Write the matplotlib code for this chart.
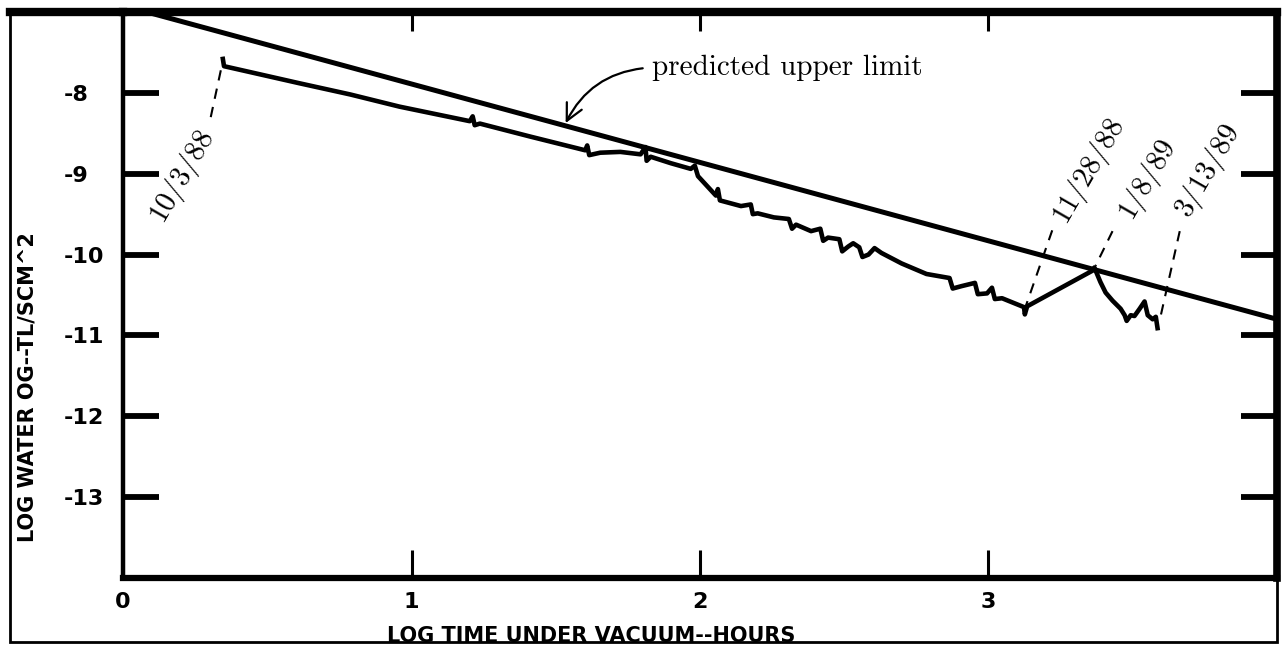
import matplotlib
matplotlib.use("Agg")
import matplotlib.pyplot as plt
import matplotlib.lines as mlines
import matplotlib.patches as mpatches
import numpy as np

# predicted upper limit (straight line in log-log)
upper_x = [0.0, 4.0]
upper_y = [-6.92, -10.80]

meas_x = [0.346, 0.350, 0.610, 0.788, 0.958, 1.202, 1.212, 1.219, 1.237, 1.411,
          1.602, 1.609, 1.616, 1.654, 1.724, 1.794, 1.811, 1.815, 1.829, 1.899,
          1.968, 1.982, 1.993, 2.055, 2.062, 2.069, 2.142, 2.176, 2.183, 2.200,
          2.256, 2.308, 2.319, 2.333, 2.385, 2.417, 2.427, 2.444, 2.483, 2.493,
          2.514, 2.531, 2.552, 2.563, 2.584, 2.605, 2.629, 2.699, 2.785, 2.865,
          2.876, 2.907, 2.953, 2.963, 2.995, 3.012, 3.022, 3.047, 3.123, 3.126,
          3.134, 3.360, 3.367, 3.388, 3.406, 3.430, 3.458, 3.472, 3.479, 3.493,
          3.506, 3.524, 3.541, 3.552, 3.569, 3.580, 3.586]
meas_y = [-7.58, -7.67, -7.88, -8.02, -8.17, -8.35, -8.29, -8.40, -8.38, -8.54,
          -8.71, -8.65, -8.77, -8.74, -8.73, -8.76, -8.67, -8.84, -8.79, -8.87,
          -8.94, -8.90, -9.03, -9.27, -9.19, -9.33, -9.40, -9.38, -9.50, -9.49,
          -9.54, -9.56, -9.68, -9.63, -9.71, -9.68, -9.83, -9.79, -9.81, -9.96,
          -9.90, -9.86, -9.91, -10.03, -10.00, -9.92, -9.98, -10.11, -10.24, -10.29,
          -10.42, -10.39, -10.35, -10.49, -10.48, -10.41, -10.55, -10.54, -10.65, -10.74,
          -10.64, -10.20, -10.16, -10.34, -10.47, -10.57, -10.67, -10.75, -10.82, -10.75,
          -10.76, -10.67, -10.58, -10.75, -10.80, -10.77, -10.91]

x_ticks = [0, 1, 2, 3]
y_ticks = [-8, -9, -10, -11, -12, -13]

# date labels with their dashed leaders
date_labels = ['10/3/88', '11/28/88', '1/8/89', '3/13/89']
date_text_x = [0.113, 3.245, 3.472, 3.673]
date_text_y = [-9.56, -9.57, -9.52, -9.49]
leader_x = [[0.304, 0.345], [3.221, 3.130], [3.430, 3.371], [3.663, 3.593]]
leader_y = [[-8.30, -7.62], [-9.70, -10.63], [-9.71, -10.14], [-9.71, -10.82]]

arrow_x = 1.53
label_x, label_y = 1.835, -7.775

fig = plt.figure(figsize=(12.83, 6.5), dpi=100)
ax = fig.add_axes([0.0959, 0.1108, 0.8994, 0.8707])

# outer frame around the whole plot
fig.patches.append(mpatches.Rectangle((0.0078, 0.0123), 0.9875, 0.9692,
                                      transform=fig.transFigure, fill=False,
                                      lw=2, ec='black'))
fig.add_artist(mlines.Line2D([0.0078, 0.0959], [0.9815, 0.9815], lw=6,
                             color='black', transform=fig.transFigure))

ax.plot(upper_x, upper_y, color='black', lw=3.6)
ax.plot(meas_x, meas_y, color='black', lw=3.3, solid_joinstyle='round')

for (xs, ys) in zip(leader_x, leader_y):
    ax.plot(xs, ys, color='black', lw=1.5, ls=(0, (5, 4)))

for lab, tx, ty in zip(date_labels, date_text_x, date_text_y):
    ax.text(tx, ty, lab, rotation=60, rotation_mode='anchor', ha='left',
            va='center', family='cmr10', fontsize=21)

ax.annotate('predicted upper limit',
            xy=(arrow_x, np.interp(arrow_x, upper_x, upper_y)),
            xytext=(label_x, label_y), family='cmr10', fontsize=21,
            ha='left', va='baseline',
            arrowprops=dict(arrowstyle='->,head_length=0.6,head_width=0.3',
                            connectionstyle='arc3,rad=0.3', lw=1.6,
                            color='black', relpos=(0, 0.5), shrinkA=5,
                            shrinkB=2, mutation_scale=20))

ax.set_xlim(0, 4)
ax.set_ylim(-14, -7)

ax.spines['top'].set_linewidth(6)
ax.spines['right'].set_linewidth(5.5)
ax.spines['left'].set_linewidth(3.2)
ax.spines['bottom'].set_linewidth(4.5)

ax.set_xticks(x_ticks)
ax.set_xticklabels([str(v) for v in x_ticks], fontweight='bold')
ax.tick_params(axis='x', direction='in', length=20, width=2.2, pad=10,
               labelsize=16)
ax.set_yticks(y_ticks)
ax.set_yticklabels([str(v) for v in y_ticks], fontweight='bold')
ax.tick_params(axis='y', direction='in', length=26, width=4.2, left=True,
               right=True, pad=43, labelsize=16)
for lab in ax.get_yticklabels():
    lab.set_ha('left')

# short ticks along the top edge
ax2 = ax.twiny()
ax2.set_xlim(ax.get_xlim())
ax2.set_xticks([1, 2, 3])
ax2.tick_params(axis='x', direction='in', length=14, width=2.2,
                labeltop=False, top=True, bottom=False)
for s in ax2.spines.values():
    s.set_visible(False)

ax.set_xlabel('LOG TIME UNDER VACUUM--HOURS', fontsize=15, fontweight='bold')
ax.xaxis.label.set_va('center')
ax.xaxis.set_label_coords(0.4055, -0.1025)
ax.set_ylabel('LOG WATER OG--TL/SCM^2', fontsize=15, fontweight='bold')
ax.yaxis.label.set_va('center')
ax.yaxis.set_label_coords(-0.0828, 0.3375)

fig.savefig('out.png', dpi=100)
